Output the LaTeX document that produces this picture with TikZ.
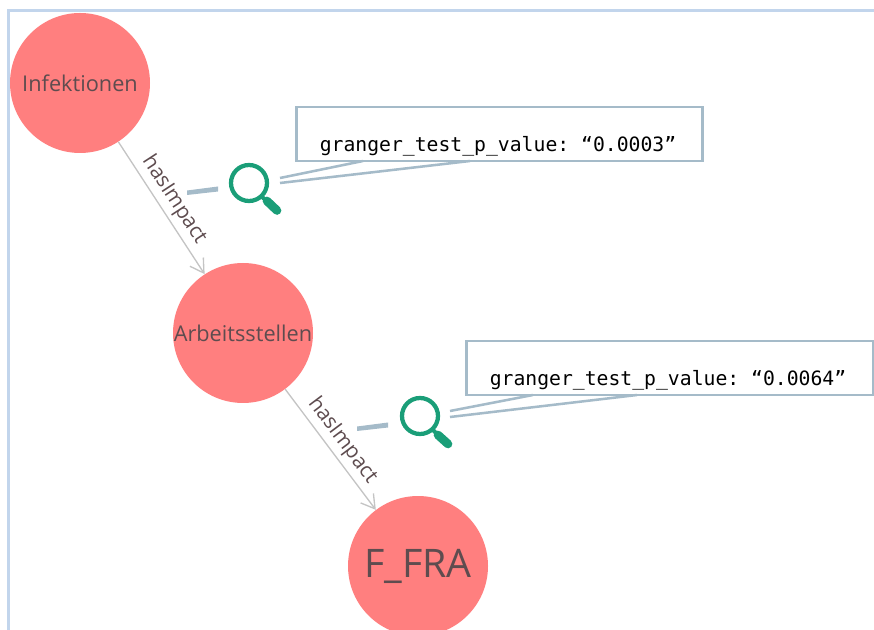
\documentclass[tikz,border=0pt]{standalone}
\usepackage{fontspec}
\setmainfont{Open Sans}
\setmonofont{DejaVu Sans Mono}
\usetikzlibrary{arrows.meta}

\definecolor{nodered}{HTML}{FF7F7F}
\definecolor{nodetext}{HTML}{5E4C4F}
\definecolor{edgegrey}{HTML}{C4C4C4}
\definecolor{calloutblue}{HTML}{A5BBC9}
\definecolor{framblue}{HTML}{C2D5EC}
\definecolor{lensgreen}{HTML}{1A9E78}

\begin{document}
\begin{tikzpicture}[
    x=0.75pt,y=-0.75pt,
    entity/.style={
      circle,
      fill=nodered,
      minimum size=105pt,
      inner sep=0pt,
      text=nodetext,
      font=\fontsize{16.3}{18}\selectfont
    },
    rel/.style={
      draw=edgegrey,
      line width=1pt,
      -{Straight Barb[length=10pt,width=12pt]}
    },
    rellabel/.style={
      midway,
      sloped,
      above,
      inner sep=3pt,
      text=nodetext,
      font=\fontsize{15.6}{16}\selectfont
    },
    callbox/.style={
      draw=calloutblue,
      line width=2.2pt,
      fill=white,
      minimum width=305pt,
      minimum height=40.5pt,
      inner sep=0pt
    },
    calltext/.style={
      inner sep=0pt,
      font=\ttfamily\fontsize{14.8}{16}\selectfont
    },
    callline/.style={
      draw=calloutblue,
      line width=1.9pt
    },
    callstub/.style={
      fill=calloutblue
    },
    lens/.style={
      circle,
      draw=lensgreen,
      line width=3.2pt,
      minimum size=27pt,
      inner sep=0pt
    },
    lensgrip/.style={
      draw=lensgreen,
      line width=6.5pt,
      line cap=round
    },
    lensneck/.style={
      draw=lensgreen,
      line width=3pt
    }
    ]
    \path[use as bounding box,clip] (0,0) rectangle (874,630);

    \draw[framblue,line width=1.6pt] (8.5,630) -- (8.5,10.5) -- (874,10.5);

    \node[entity] (infekt) at (80,83) {Infektionen};
    \node[entity] (arbeit) at (243,333) {Arbeitsstellen};
    \node[entity,font=\fontsize{29.5}{30}\selectfont] (ffra) at (418,566) {F\_FRA};

    \draw[rel] (infekt) -- (arbeit) node[rellabel] (imp1) {hasImpact};
    \draw[rel] (arbeit) -- (ffra) node[rellabel] (imp2) {hasImpact};

    % first callout
    \node[callbox] (box1) at (499.5,134) {};
    \node[calltext] (val1) at (498,146) {granger\_test\_p\_value: “0.0003”};
    \coordinate (tip1a) at (280,178);
    \coordinate (tip1b) at (280,183);
    \coordinate (base1a) at (363,161);
    \coordinate (base1b) at (470,161);
    \draw[callline] (base1a) -- (tip1a);
    \draw[callline] (base1b) -- (tip1b);
    \coordinate (stub1a) at (187,190.5);
    \coordinate (stub1b) at (187,195);
    \coordinate (stub1c) at (218,191.5);
    \coordinate (stub1d) at (218,186.5);
    \fill[callstub] (stub1a) -- (stub1b) -- (stub1c) -- (stub1d) -- cycle;
    \node[lens] (lens1) at (249,183) {};
    \coordinate (grip1a) at (267,201);
    \coordinate (grip1b) at (277,210.5);
    \draw[lensneck] (lens1) ++(13,14) -- (grip1a);
    \draw[lensgrip] (grip1a) -- (grip1b);

    % second callout
    \node[callbox] (box2) at (670,368) {};
    \node[calltext] (val2) at (668,380) {granger\_test\_p\_value: “0.0064”};
    \coordinate (tip2a) at (450,411);
    \coordinate (tip2b) at (450,417);
    \coordinate (base2a) at (533,395);
    \coordinate (base2b) at (637,395);
    \draw[callline] (base2a) -- (tip2a);
    \draw[callline] (base2b) -- (tip2b);
    \coordinate (stub2a) at (357,426.5);
    \coordinate (stub2b) at (357,431);
    \coordinate (stub2c) at (388,427.5);
    \coordinate (stub2d) at (388,422.5);
    \fill[callstub] (stub2a) -- (stub2b) -- (stub2c) -- (stub2d) -- cycle;
    \node[lens] (lens2) at (420,416) {};
    \coordinate (grip2a) at (438,435);
    \coordinate (grip2b) at (448,444);
    \draw[lensneck] (lens2) ++(13,14) -- (grip2a);
    \draw[lensgrip] (grip2a) -- (grip2b);
\end{tikzpicture}
\end{document}
